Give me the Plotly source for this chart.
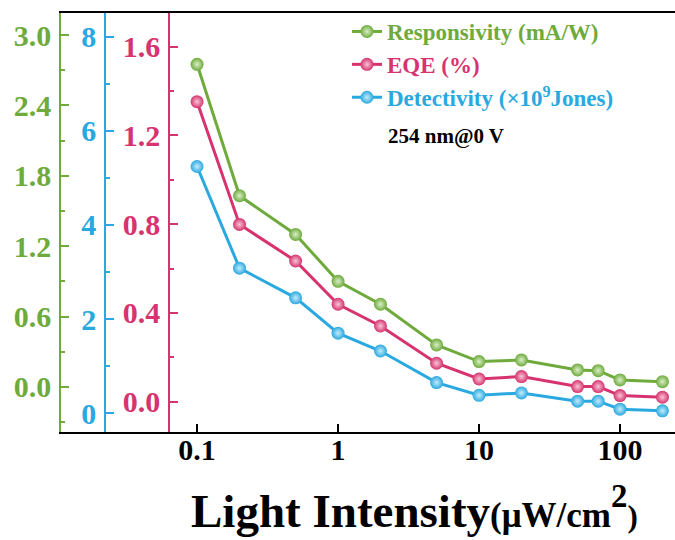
import plotly.graph_objects as go

# ---- data ----
intensity = [0.1, 0.2, 0.5, 1, 2, 5, 10, 20, 50, 70, 100, 200]
responsivity = [2.75, 1.63, 1.30, 0.90, 0.705, 0.358, 0.216, 0.230, 0.145, 0.139, 0.060, 0.045]
eqe = [1.352, 0.799, 0.634, 0.439, 0.341, 0.173, 0.102, 0.113, 0.068, 0.068, 0.027, 0.020]
detectivity = [5.24, 3.08, 2.45, 1.70, 1.32, 0.65, 0.38, 0.43, 0.255, 0.255, 0.085, 0.05]

x_tickvals = [0.1, 1, 10, 100]
x_ticktext = ["0.1", "1", "10", "100"]

GREEN = "#6EAA3C"
PINK = "#D6336F"
BLUE = "#2AA9E0"
FONT = "Liberation Serif"

W, H = 675, 540
L, R, T, B = 61, 0, 13, 108
plot_w = W - L - R
plot_h = H - T - B


def px_x(p):
    return (p - L) / plot_w


def px_y(p):
    return (H - B - p) / plot_h


fig = go.Figure()

series = [
    ("Responsivity (mA/W)", responsivity, GREEN, "y", "#d9efc8"),
    ("EQE (%)", eqe, PINK, "y3", "#f7c4d6"),
    ("Detectivity (×10<sup>9</sup>Jones)", detectivity, BLUE, "y2", "#c4ebfb"),
]
for name, vals, col, ax, tint in series:
    fig.add_trace(go.Scatter(
        x=intensity, y=vals, yaxis=ax, mode="lines+markers",
        name=f"<span style='color:{col}'>{name}</span>",
        line=dict(color=col, width=3),
        marker=dict(size=13, color=col, line=dict(width=0),
                    gradient=dict(type="radial", color=tint)),
    ))

axis_common = dict(showgrid=False, zeroline=False, showline=True, linewidth=1.5,
                   ticks="inside", ticklen=8, tickwidth=1.5,
                   ticklabelstandoff=2, automargin=False)
TICKSIZE = 30

fig.update_layout(
    width=W, height=H,
    margin=dict(l=L, r=R, t=T, b=B, autoexpand=False),
    plot_bgcolor="white", paper_bgcolor="white",
    showlegend=True,
    legend=dict(x=px_x(347), y=px_y(10), xanchor="left", yanchor="top",
                font=dict(family=FONT, size=23, weight="bold"),
                bgcolor="rgba(0,0,0,0)", tracegroupgap=0),
    xaxis=dict(type="log", range=[-1.965, 2.39], domain=[0, 1],
               tickvals=x_tickvals, ticktext=x_ticktext,
               linecolor="black", tickcolor="black", mirror=True,
               tickfont=dict(family=FONT, size=TICKSIZE, weight="bold", color="black"),
               showgrid=False, zeroline=False, showline=True, linewidth=1.5,
               ticks="inside", ticklen=8, tickwidth=1.5, ticklabelstandoff=-10,
               automargin=False),
    yaxis=dict(range=[-0.384, 3.1875], tickvals=[0.0, 0.6, 1.2, 1.8, 2.4, 3.0],
               ticktext=["0.0", "0.6", "1.2", "1.8", "2.4", "3.0"],
               linecolor=GREEN, tickcolor=GREEN,
               tickfont=dict(family=FONT, size=TICKSIZE, weight="bold", color=GREEN),
               minor=dict(dtick=0.3, tick0=0.3, ticks="inside", ticklen=4, tickcolor=GREEN, tickwidth=1.5),
               anchor="x", **axis_common),
    yaxis2=dict(range=[-0.40, 8.5], tickvals=[0, 2, 4, 6, 8],
                linecolor=BLUE, tickcolor=BLUE,
                tickfont=dict(family=FONT, size=TICKSIZE, weight="bold", color=BLUE),
                minor=dict(dtick=1, tick0=1, ticks="inside", ticklen=4, tickcolor=BLUE, tickwidth=1.5),
                overlaying="y", anchor="free", position=px_x(105), side="left",
                **axis_common),
    yaxis3=dict(range=[-0.137, 1.752], tickvals=[0.0, 0.4, 0.8, 1.2, 1.6],
                ticktext=["0.0", "0.4", "0.8", "1.2", "1.6"],
                linecolor=PINK, tickcolor=PINK,
                tickfont=dict(family=FONT, size=TICKSIZE, weight="bold", color=PINK),
                minor=dict(dtick=0.2, tick0=0.2, ticks="inside", ticklen=4, tickcolor=PINK, tickwidth=1.5),
                overlaying="y", anchor="free", position=px_x(169), side="left",
                **axis_common),
    annotations=[
        dict(text="<b>254 nm@0 V</b>", xref="paper", yref="paper",
             x=px_x(386), y=px_y(136), xanchor="left", yanchor="middle",
             showarrow=False, font=dict(family=FONT, size=21, color="black")),
        dict(text="<b>Light Intensity<span style='font-size:35px'>(μW/cm</span><sup>2</sup><span style='font-size:31px'>)</span></b>",
             xref="paper", yref="paper", x=px_x(414), y=px_y(507),
             xanchor="center", yanchor="middle", showarrow=False,
             font=dict(family=FONT, size=47, color="black")),
    ],
)

fig.write_html("out.html", post_script="document.body.style.margin='0';",
               config={"displayModeBar": False})
